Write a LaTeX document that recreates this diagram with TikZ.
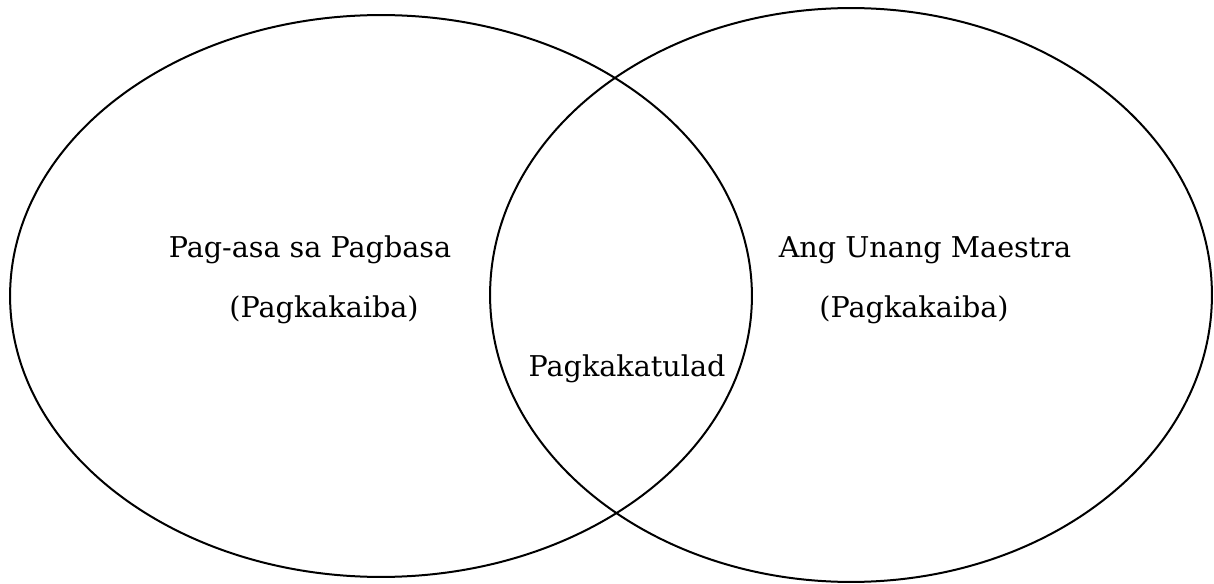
\documentclass[tikz,border=0pt]{standalone}
\usepackage{fontspec}
\setmainfont{DejaVu Serif}
\usepackage{tikz}

\begin{document}
\begin{tikzpicture}[x = 0.02cm, y = -0.02cm]

    \useasboundingbox (0, 0) rectangle (1214, 584);

    \tikzset{set/.style = {line width = 0.4mm, draw = black}}
    \tikzset{label/.style = {anchor = base, inner sep = 0pt, font = \fontsize{16.3}{19}\selectfont}}

    \draw[set] (381, 296) ellipse [x radius = 7.42cm, y radius = 5.62cm];
    \draw[set] (851, 295) ellipse [x radius = 7.22cm, y radius = 5.74cm];

    \node[label] (lt) at (310, 258) {Pag-asa sa Pagbasa};
    \node[label] (ld) at (324, 317) {(Pagkakaiba)};

    \node[label] (mid) at (627, 377) {Pagkakatulad};

    \node[label] (rt) at (925, 258) {Ang Unang Maestra};
    \node[label] (rd) at (914, 317) {(Pagkakaiba)};

\end{tikzpicture}
\end{document}
